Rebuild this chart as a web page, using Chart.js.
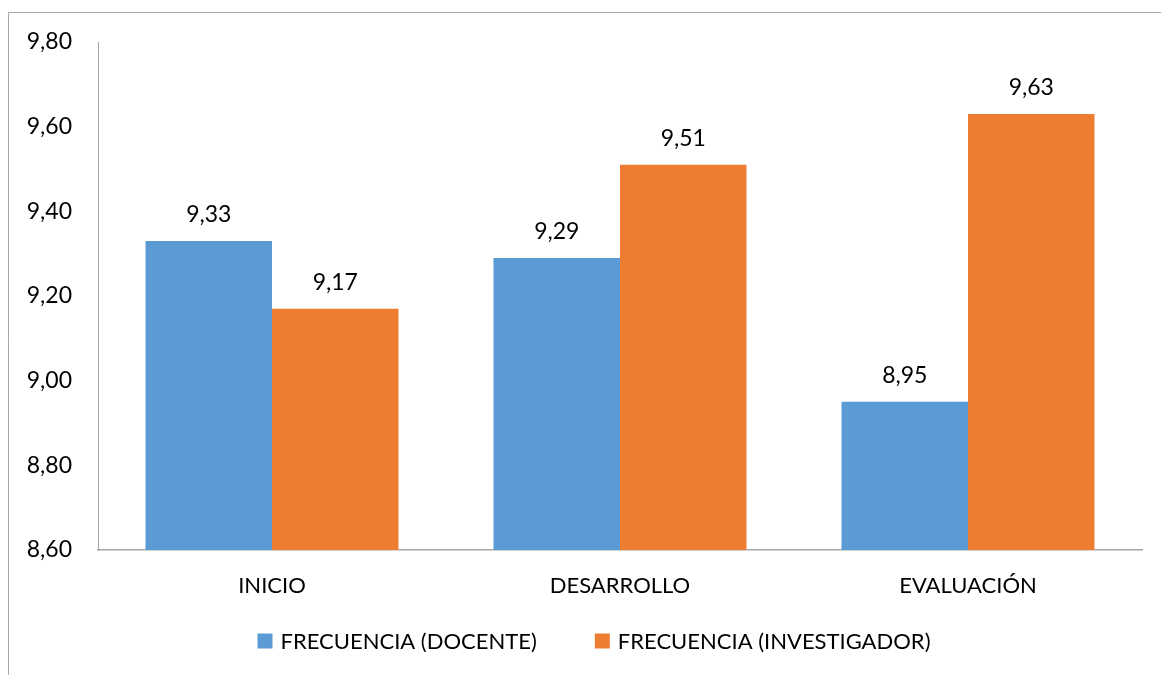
<!DOCTYPE html>
<html>
<head>
<meta charset="utf-8">
<script src="https://cdn.jsdelivr.net/npm/chart.js@4.4.1/dist/chart.umd.min.js"></script>
<style>
  html, body { margin: 0; padding: 0; background: #fff; }
  #wrap { width: 1161px; height: 675px; position: relative; }
</style>
</head>
<body>
<div id="wrap"><canvas id="chart" width="1161" height="675"></canvas></div>
<script>
// ── Data ──
const categories = ['INICIO', 'DESARROLLO', 'EVALUACIÓN'];
const docente = [9.33, 9.29, 8.95];
const investigador = [9.17, 9.51, 9.63];
const seriesNames = ['FRECUENCIA (DOCENTE)', 'FRECUENCIA (INVESTIGADOR)'];
const yMin = 8.6, yMax = 9.8, yStep = 0.2;

const FONT = 'Lato, "Open Sans", sans-serif';
const NUM_SIZE = 23;
const TXT_SIZE = 22;
const fmt = v => Number(v).toFixed(2).replace('.', ',');

// ── Outer frame (chart border) ──
const framePlugin = {
  id: 'frame',
  beforeDraw(chart) {
    const ctx = chart.ctx;
    ctx.save();
    ctx.strokeStyle = '#a6a6a6';
    ctx.lineWidth = 1;
    ctx.beginPath();
    ctx.moveTo(8.5, 675);
    ctx.lineTo(8.5, 12.5);
    ctx.lineTo(1161, 12.5);
    ctx.stroke();
    ctx.restore();
  }
};

// ── Value labels above bars ──
const valueLabels = {
  id: 'valueLabels',
  afterDatasetsDraw(chart) {
    const ctx = chart.ctx;
    ctx.save();
    ctx.font = NUM_SIZE + 'px ' + FONT;
    ctx.fillStyle = '#000';
    ctx.textAlign = 'center';
    ctx.textBaseline = 'alphabetic';
    chart.data.datasets.forEach((ds, i) => {
      chart.getDatasetMeta(i).data.forEach((bar, j) => {
        ctx.fillText(fmt(ds.data[j]), bar.x, bar.y - 19);
      });
    });
    ctx.restore();
  }
};

// ── Legend (drawn from datasets) ──
const legendPlugin = {
  id: 'customLegend',
  afterDraw(chart) {
    const ctx = chart.ctx;
    ctx.save();
    ctx.font = TXT_SIZE + 'px ' + FONT;
    ctx.textBaseline = 'middle';
    const box = 15, gapText = 8, gapItem = 58, cy = 641, center = 594;
    const items = chart.data.datasets.map(ds => ({ label: ds.label, color: ds.backgroundColor, w: ctx.measureText(ds.label).width }));
    const total = items.reduce((s, it) => s + box + gapText + it.w, 0) + gapItem * (items.length - 1);
    let x = center - total / 2;
    items.forEach(it => {
      ctx.fillStyle = it.color;
      ctx.fillRect(x, cy - box / 2, box, box);
      ctx.fillStyle = '#000';
      ctx.fillText(it.label, x + box + gapText, cy + 1);
      x += box + gapText + it.w + gapItem;
    });
    ctx.restore();
  }
};

new Chart(document.getElementById('chart'), {
  type: 'bar',
  data: {
    labels: categories,
    datasets: [
      { label: seriesNames[0], data: docente, backgroundColor: '#5b9bd5' },
      { label: seriesNames[1], data: investigador, backgroundColor: '#ed7d31' }
    ]
  },
  options: {
    responsive: false,
    animation: false,
    devicePixelRatio: 1,
    layout: { padding: { left: 0, right: 19, top: 42, bottom: 0 } },
    categoryPercentage: 0.727,
    barPercentage: 1.0,
    plugins: { legend: { display: false }, tooltip: { enabled: false } },
    scales: {
      x: {
        grid: { display: false, drawTicks: false },
        border: { display: true, color: '#a6a6a6', width: 1.5 },
        ticks: { color: '#000', font: { family: FONT, size: TXT_SIZE }, padding: 23 },
        afterFit(scale) { scale.height = 125; }
      },
      y: {
        min: yMin, max: yMax,
        grid: { display: false, drawTicks: false },
        border: { display: true, color: '#a6a6a6', width: 1 },
        ticks: { stepSize: yStep, color: '#000', font: { family: FONT, size: NUM_SIZE }, padding: 26,
          callback: v => fmt(v) },
        afterFit(scale) { scale.width = 98; }
      }
    }
  },
  plugins: [framePlugin, valueLabels, legendPlugin]
});
</script>
</body>
</html>
